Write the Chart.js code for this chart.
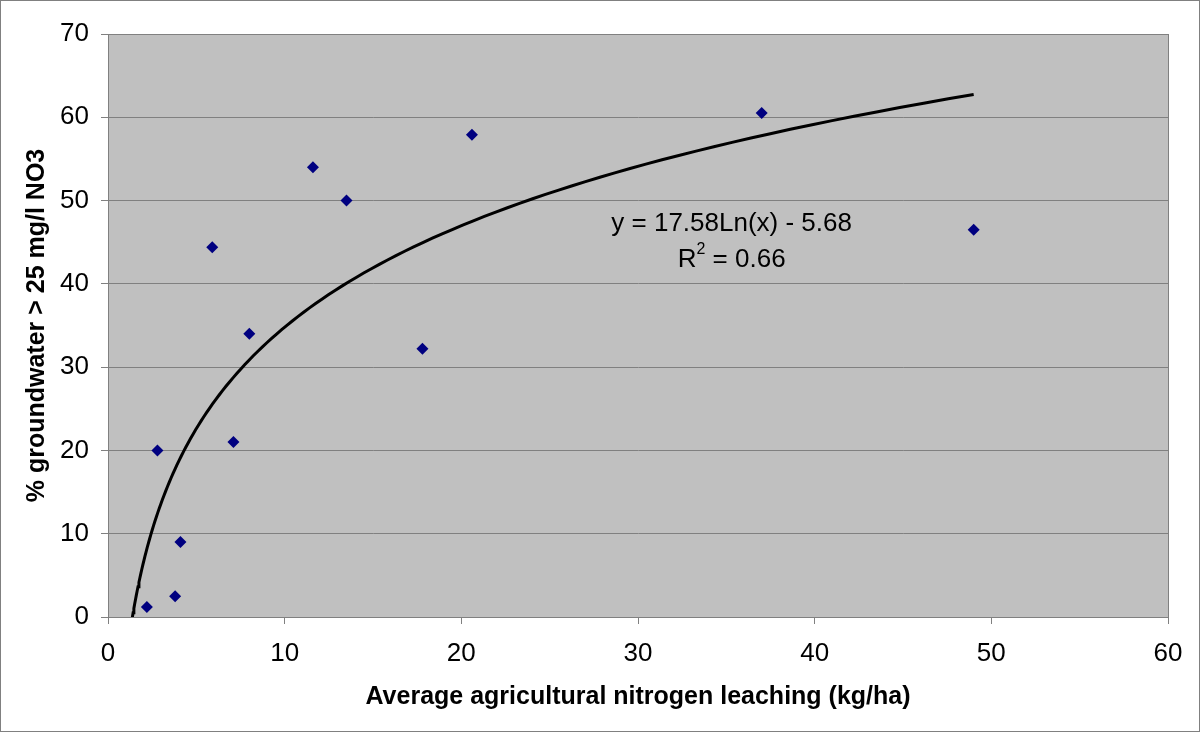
<!DOCTYPE html>
<html>
<head>
<meta charset="utf-8">
<script src="https://cdn.jsdelivr.net/npm/chart.js@4/dist/chart.umd.min.js"></script>
<style>
	html, body { margin: 0; padding: 0; background: #fff; }
	#wrap { width: 1200px; height: 732px; }
</style>
</head>
<body>
<div id="wrap"><canvas id="chart" width="1200" height="732"></canvas></div>
<script>
// measured points: leaching (kg/ha) vs % groundwater over 25 mg/l NO3
const leaching = [2.2, 2.8, 3.8, 4.1, 5.9, 7.1, 8.0, 11.6, 13.5, 17.8, 20.6, 37.0, 49.0];
const groundwater = [1.2, 20.0, 2.5, 9.0, 44.4, 21.0, 34.0, 54.0, 50.0, 32.2, 57.9, 60.5, 46.5];

// logarithmic trendline as printed on the chart
const trendA = 17.58;
const trendB = -5.68;
const trendFrom = 1.38;
const trendTo = 49.0;
const trendSteps = 120;

const xTicks = [0, 10, 20, 30, 40, 50, 60];
const yTicks = [0, 10, 20, 30, 40, 50, 60, 70];

const equationText = 'y = 17.58Ln(x) - 5.68';
const rSquaredText = '0.66';
const labelAt = {x: 35.3, y: 47.2};

const points = leaching.map((x, i) => ({x: x, y: groundwater[i]}));

const trend = [];
for (let i = 0; i <= trendSteps; i++)
{
	const x = trendFrom * Math.pow(trendTo / trendFrom, i / trendSteps);
	trend.push({x: x, y: trendA * Math.log(x) + trendB});
}

const FONT = '"Liberation Sans", Arial, sans-serif';

const frame = {
	id: 'frame',
	beforeDraw(chart) {
		const {ctx, chartArea: a} = chart;
		ctx.save();
		ctx.fillStyle = '#ffffff';
		ctx.fillRect(0, 0, chart.width, chart.height);
		ctx.strokeStyle = '#808080';
		ctx.lineWidth = 1;
		ctx.strokeRect(0.5, 0.5, chart.width - 1, chart.height - 1);
		ctx.fillStyle = '#c0c0c0';
		ctx.fillRect(a.left, a.top, a.right - a.left, a.bottom - a.top);
		ctx.restore();
	},
	afterDatasetsDraw(chart) {
		const {ctx, chartArea: a, scales} = chart;
		ctx.save();
		ctx.strokeStyle = '#808080';
		ctx.lineWidth = 1;
		ctx.strokeRect(Math.round(a.left) + 0.5, Math.round(a.top) + 0.5,
			Math.round(a.right - a.left), Math.round(a.bottom - a.top));

		const cx = scales.x.getPixelForValue(labelAt.x);
		const cy = scales.y.getPixelForValue(labelAt.y);
		ctx.fillStyle = '#000000';
		ctx.textAlign = 'center';
		ctx.textBaseline = 'middle';
		ctx.font = '26px ' + FONT;
		ctx.fillText(equationText, cx, cy);

		// R² line with a raised 2
		const lineY = cy + 36;
		const rest = ' = ' + rSquaredText;
		const wR = ctx.measureText('R').width;
		ctx.font = '16px ' + FONT;
		const wSup = ctx.measureText('2').width;
		ctx.font = '26px ' + FONT;
		const wRest = ctx.measureText(rest).width;
		const x0 = cx - (wR + wSup + wRest) / 2;
		ctx.textAlign = 'left';
		ctx.fillText('R', x0, lineY);
		ctx.font = '16px ' + FONT;
		ctx.fillText('2', x0 + wR, lineY - 10);
		ctx.font = '26px ' + FONT;
		ctx.fillText(rest, x0 + wR + wSup, lineY);
		ctx.restore();
	}
};

new Chart(document.getElementById('chart'), {
	type: 'scatter',
	data: {
		datasets: [
			{
				label: 'trend',
				type: 'line',
				data: trend,
				borderColor: '#000000',
				borderWidth: 3,
				pointRadius: 0,
				tension: 0,
				fill: false,
				order: 2,
			},
			{
				label: 'data',
				data: points,
				pointStyle: 'rectRot',
				pointRadius: 6,
				backgroundColor: '#000080',
				borderColor: '#000080',
				borderWidth: 0,
				order: 1,
			},
		]
	},
	options: {
		responsive: false,
		animation: false,
		events: [],
		layout: {
			padding: {top: 34, right: 32, left: 0, bottom: 0}
		},
		plugins: {
			legend: {display: false},
			tooltip: {enabled: false},
		},
		scales: {
			x: {
				type: 'linear',
				min: 0,
				max: 60,
				afterFit(scale) { scale.height = 115; },
				afterBuildTicks(scale) { scale.ticks = xTicks.map(v => ({value: v})); },
				grid: {
					drawOnChartArea: false,
					drawTicks: true,
					tickLength: 7,
					color: '#808080',
				},
				border: {display: true, color: '#808080'},
				ticks: {
					color: '#000000',
					font: {family: FONT, size: 26},
					padding: 14,
					maxRotation: 0,
				},
				title: {
					display: true,
					text: 'Average agricultural nitrogen leaching (kg/ha)',
					color: '#000000',
					font: {family: FONT, size: 25, weight: 'bold'},
					padding: {top: 0, bottom: 20},
				}
			},
			y: {
				type: 'linear',
				min: 0,
				max: 70,
				afterFit(scale) { scale.width = 108; },
				afterBuildTicks(scale) { scale.ticks = yTicks.map(v => ({value: v})); },
				grid: {
					color: '#808080',
					drawTicks: true,
					tickLength: 7,
				},
				border: {display: true, color: '#808080'},
				ticks: {
					color: '#000000',
					font: {family: FONT, size: 26},
					padding: 12,
				},
				title: {
					display: true,
					text: '% groundwater > 25 mg/l NO3',
					color: '#000000',
					font: {family: FONT, size: 25, weight: 'bold'},
					padding: {top: 22, bottom: 0},
				}
			}
		}
	},
	plugins: [frame]
});
</script>
</body>
</html>
